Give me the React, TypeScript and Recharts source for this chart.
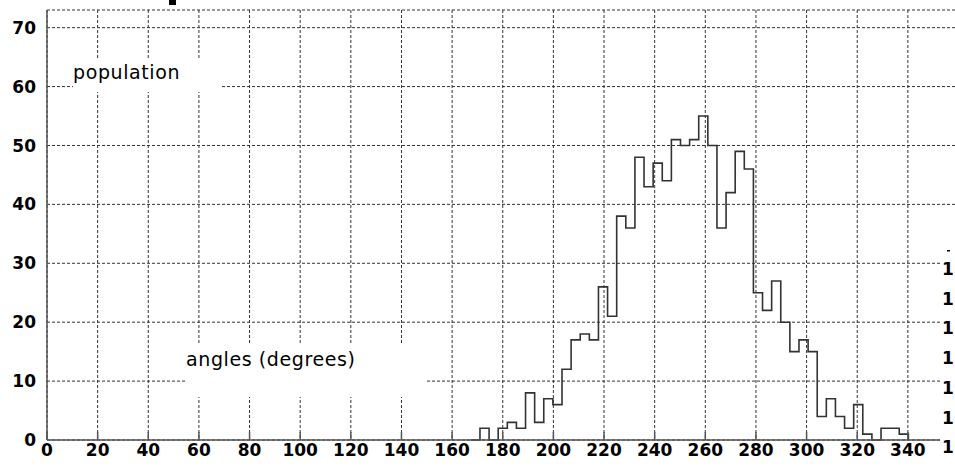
import { LineChart, Line, XAxis, YAxis, CartesianGrid } from "recharts";

// left edge of each 3.6 degree bin, and its count
const binEdges = [
  167.4, 171, 174.6, 178.2, 181.8, 185.4, 189, 192.6, 196.2, 199.8, 203.4, 207,
  210.6, 214.2, 217.8, 221.4, 225, 228.6, 232.2, 235.8, 239.4, 243, 246.6,
  250.2, 253.8, 257.4, 261, 264.6, 268.2, 271.8, 275.4, 279, 282.6, 286.2,
  289.8, 293.4, 297, 300.6, 304.2, 307.8, 311.4, 315, 318.6, 322.2, 325.8,
  329.4, 333, 336.6, 340.2
];
const counts = [
  0, 2, 0, 2, 3, 2, 8, 3, 7, 6, 12, 17,
  18, 17, 26, 21, 38, 36, 48, 43, 47, 44, 51,
  50, 51, 55, 50, 36, 42, 49, 46, 25, 22, 27,
  20, 15, 17, 15, 4, 7, 4, 2, 6, 1, 0,
  2, 2, 1, 0
];

const xTicks = [0, 20, 40, 60, 80, 100, 120, 140, 160, 180, 200, 220, 240, 260, 280, 300, 320, 340];
const yTicks = [0, 10, 20, 30, 40, 50, 60, 70];
const rightLabels = ["1", "1", "1", "1", "1", "1", "1"];

const data = binEdges.map((angle, i) => ({ angle, count: counts[i] }));

const tickStyle = { fontFamily: "DejaVu Sans", fontWeight: "bold", fontSize: 17, fill: "#000" };
const labelStyle = { fontFamily: "DejaVu Sans", fontSize: 19, letterSpacing: 0.6, fill: "#000" };

export default function App() {
  return (
    <div style={{ position: "absolute", left: 0, top: 0, width: 955, height: 473, overflow: "hidden", background: "#fff" }}>
      <LineChart width={970} height={473} data={data} margin={{ top: 10, right: 11.5, left: 0, bottom: 0 }}>
        <CartesianGrid stroke="#333" strokeDasharray="3 2" />
        <XAxis
          dataKey="angle"
          type="number"
          domain={[0, 360]}
          ticks={xTicks}
          interval={0}
          height={33}
          stroke="#555"
          strokeWidth={1.5}
          tickSize={-8}
          tickMargin={12}
          tick={tickStyle}
        />
        <YAxis
          type="number"
          domain={[0, 73]}
          ticks={yTicks}
          interval={0}
          width={47}
          stroke="#555"
          strokeWidth={1.5}
          tickLine={false}
          tickSize={0}
          tickMargin={11}
          tick={tickStyle}
        />
        <Line
          dataKey="count"
          type="stepAfter"
          stroke="#333"
          strokeWidth={1.6}
          dot={false}
          isAnimationActive={false}
        />
      </LineChart>
      <svg width={955} height={473} style={{ position: "absolute", left: 0, top: 0, pointerEvents: "none" }}>
        <rect x={169} y={0} width={7} height={5} fill="#000" />
        <rect x={73} y={58} width={149} height={34} fill="#fff" />
        <text x={73} y={79} style={labelStyle}>population</text>
        <rect x={186} y={345} width={239} height={52} fill="#fff" />
        <text x={186} y={366} style={labelStyle}>angles (degrees)</text>
        <rect x={940} y={245} width={15} height={228} fill="#fff" />
        <rect x={947} y={250} width={3} height={1.5} fill="#000" />
        {rightLabels.map((t, i) => (
          <text key={i} x={942} y={275 + i * 29.7} style={tickStyle}>{t}</text>
        ))}
      </svg>
    </div>
  );
}
